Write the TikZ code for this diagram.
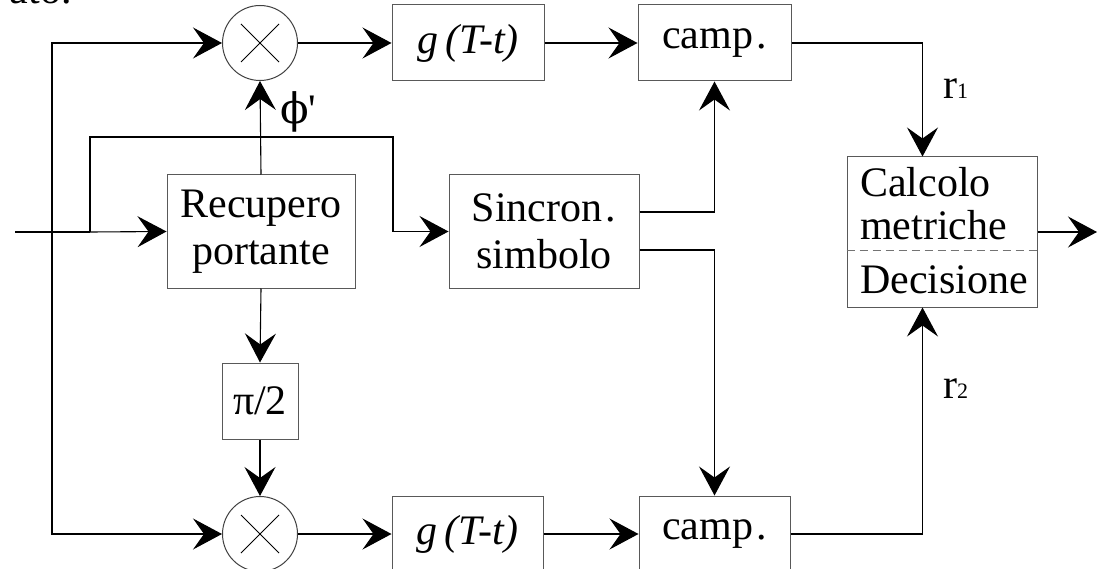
\documentclass[tikz,border=0pt]{standalone}
\usepackage{fontspec}
\setmainfont{Liberation Serif}
\newfontfamily\greekfont{DejaVu Serif}
\usetikzlibrary{arrows.meta,calc}
\begin{document}
\begin{tikzpicture}[x=1pt,y=-1pt,
  every node/.style={font=\fontsize{42}{47}\selectfont, inner sep=0pt},
  blk/.style={draw=black!65, line width=1pt, rectangle, align=center},
  mult/.style={draw=black!75, line width=1pt, circle, minimum size=75pt},
  wire/.style={line width=1.1pt},
  arr/.style={wire, -{Stealth[length=29pt,width=31pt,inset=11pt]}},
  lbl/.style={anchor=base west}
]
\useasboundingbox (0,0) rectangle (1097,569);

% partial heading text
\node[anchor=base east] (hdr) at (72,4) {ato.};

% multipliers
\node[mult] (mT) at (260,43) {};
\node[mult] (mB) at (260,534) {};
\foreach \m in {mT,mB}{
  \draw[line width=0.8pt] (\m.center) ++(-19,-19) -- ++(38,38);
  \draw[line width=0.8pt] (\m.center) ++(19,-19) -- ++(-38,38);
}

% blocks
\node[blk, minimum width=152pt, minimum height=76pt] (gT) at (468,43) {\textit{g\kern7pt(T-t)}};
\node[blk, minimum width=153pt, minimum height=76pt] (cT) at (714.5,43) {camp\kern3pt.};
\node[blk, minimum width=188pt, minimum height=113pt] (rec) at (261,231.5) {Recupero\\portante};
\node[blk, minimum width=190pt, minimum height=113pt] (sync) at (544,231.5) {Sincron\kern3pt.\\simbolo};
\node[blk, minimum width=76pt, minimum height=76pt] (pi) at (260,401) {π/2};
\node[blk, minimum width=151pt, minimum height=76pt] (gB) at (467.5,534) {\textit{g\kern7pt(T-t)}};
\node[blk, minimum width=151pt, minimum height=76pt] (cB) at (714.5,534) {camp\kern3pt.};
\node[blk, minimum width=190pt, minimum height=150pt] (calc) at (942,232) {};
\node[lbl] (t1) at (860,197) {Calcolo};
\node[lbl] (t2) at (860,240) {metriche};
\node[lbl] (t3) at (860,293) {Decisione};
\draw[black!55, line width=1pt, dash pattern=on 8pt off 5pt]
  ([yshift=-19pt]calc.west) -- ([yshift=-19pt]calc.east);

% labels
\node[lbl] (phi) at (280,124) {{\greekfont ϕ}\textquotesingle};
\node[lbl] (r1) at (943,99) {r{\fontsize{22}{24}\selectfont 1}};
\node[lbl] (r2) at (943,398) {r{\fontsize{22}{24}\selectfont 2}};

% coordinates
\coordinate (in) at (15,232);
\coordinate (jl) at (52,232);
\coordinate (br) at (90,232);
\coordinate (brT) at (90,137);
\coordinate (brR) at (393,137);
\coordinate (out) at (1097,232);

% connectors
\draw[wire] (in) -- (br);
\draw[arr] (br) -- (rec.west);
\draw[arr] (jl) |- (mT.west);
\draw[arr] (jl) |- (mB.west);
\draw[arr] (br) -- (brT) -- (brR) |- (sync.west);
\draw[arr] (rec.north) -- (mT.south);
\draw[arr] (mT.east) -- (gT.west);
\draw[arr] (gT.east) -- (cT.west);
\draw[arr] (cT.east) -| ([xshift=76pt]calc.north west);
\draw[arr] ([yshift=19.5pt]sync.east) -| (cT.south);
\draw[arr] ([yshift=-18.5pt]sync.east) -| (cB.north);
\draw[arr] (rec.south) -- (pi.north);
\draw[arr] (pi.south) -- (mB.north);
\draw[arr] (mB.east) -- (gB.west);
\draw[arr] (gB.east) -- (cB.west);
\draw[arr] (cB.east) -| ([xshift=76pt]calc.south west);
\draw[arr] (calc.east) -- (out);
\end{tikzpicture}
\end{document}
